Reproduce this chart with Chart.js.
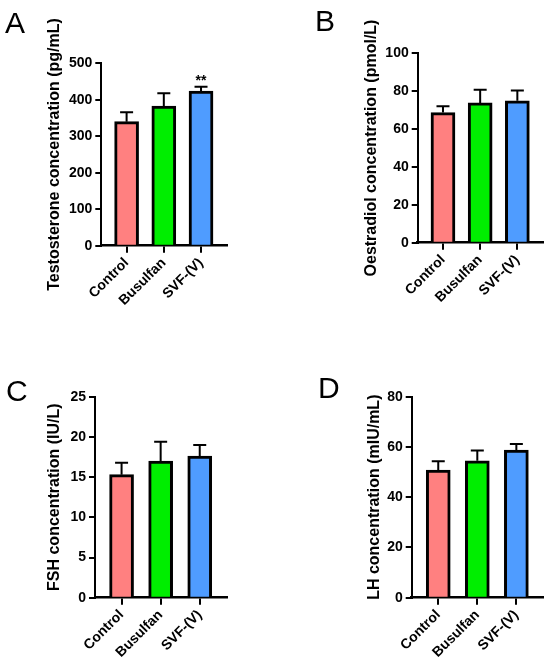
<!DOCTYPE html>
<html>
<head>
<meta charset="utf-8">
<script src="https://cdn.jsdelivr.net/npm/chart.js@4.4.0/dist/chart.umd.min.js"></script>
<style>
  body { margin: 0; background: #fff; }
  #wrap { position: relative; width: 550px; height: 672px; }
  #wrap canvas { position: absolute; }
</style>
</head>
<body>
<div id="wrap">
  <canvas id="chartA" width="275" height="336" style="left:0;top:0"></canvas>
  <canvas id="chartB" width="275" height="336" style="left:275px;top:0"></canvas>
  <canvas id="chartC" width="275" height="336" style="left:0;top:336px"></canvas>
  <canvas id="chartD" width="275" height="336" style="left:275px;top:336px"></canvas>
</div>
<script>
// groupes et couleurs
const groups = ['Control', 'Busulfan', 'SVF-(V)'];
const barColors = ['#FF8080', '#00EE00', '#4F9CFF'];

// A - testosterone
const testoMean = [340, 383, 424];
const testoSd = [26, 35, 12];
const testoSig = ['', '', '**'];
const testoTicks = [0, 100, 200, 300, 400, 500];

// B - oestradiol
const oestMean = [68.7, 73.8, 74.9];
const oestSd = [3.4, 6.9, 5.4];
const oestSig = ['', '', ''];
const oestTicks = [0, 20, 40, 60, 80, 100];

// C - FSH
const fshMean = [15.3, 17.0, 17.6];
const fshSd = [1.5, 2.4, 1.4];
const fshSig = ['', '', ''];
const fshTicks = [0, 5, 10, 15, 20, 25];

// D - LH
const lhMean = [50.8, 54.5, 58.8];
const lhSd = [3.5, 4.1, 2.4];
const lhSig = ['', '', ''];
const lhTicks = [0, 20, 40, 60, 80];

const FONT = 'Arial, "Liberation Sans", sans-serif';
const TITLE_SIZE = 16;

function makePanel(id, letter, letterPos, title, means, sds, sig, yTicks, box) {
  const W = 275, H = 336;
  const lineH = TITLE_SIZE * 1.2;
  const padLeft = box.titleX - lineH / 2;

  // barres d'erreur + lettre du panneau
  const extras = {
    id: 'extras' + letter,
    afterDatasetsDraw(chart) {
      const ctx = chart.ctx;
      const y = chart.scales.y;
      const meta = chart.getDatasetMeta(0);
      ctx.save();
      ctx.strokeStyle = '#000';
      ctx.fillStyle = '#000';
      ctx.lineWidth = 2;
      meta.data.forEach((bar, i) => {
        const top = y.getPixelForValue(means[i] + sds[i]);
        ctx.beginPath();
        ctx.moveTo(bar.x, bar.y);
        ctx.lineTo(bar.x, top);
        ctx.moveTo(bar.x - 6.5, top);
        ctx.lineTo(bar.x + 6.5, top);
        ctx.stroke();
        if (sig[i]) {
          ctx.font = 'bold 14px ' + FONT;
          ctx.textAlign = 'center';
          ctx.textBaseline = 'alphabetic';
          ctx.fillText(sig[i], bar.x, top - 2);
        }
      });
      ctx.restore();
    },
    afterDraw(chart) {
      const ctx = chart.ctx;
      ctx.save();
      ctx.fillStyle = '#000';
      ctx.font = '30px ' + FONT;
      ctx.textAlign = 'left';
      ctx.textBaseline = 'alphabetic';
      ctx.fillText(letter, letterPos[0], letterPos[1]);
      ctx.restore();
    }
  };

  return new Chart(document.getElementById(id), {
    type: 'bar',
    data: {
      datasets: [{
        data: means.map((m, i) => ({ x: i, y: m })),
        backgroundColor: barColors,
        borderColor: '#000',
        borderWidth: 3,
        borderSkipped: 'bottom',
        barThickness: 24
      }]
    },
    options: {
      responsive: false,
      animation: false,
      layout: { padding: { left: padLeft, top: box.ty, right: W - box.rx, bottom: 0 } },
      plugins: { legend: { display: false }, tooltip: { enabled: false } },
      scales: {
        x: {
          type: 'linear',
          offset: false,
          min: -0.68,
          max: 2.69,
          afterBuildTicks: s => { s.ticks = groups.map((g, i) => ({ value: i })); },
          afterFit: s => { s.height = H - box.by; s.paddingLeft = 0; s.paddingRight = 0; },
          grid: { offset: false, drawOnChartArea: false, drawTicks: true, tickLength: 7, color: '#000', lineWidth: 2 },
          border: { display: true, color: '#000', width: 2.5 },
          ticks: {
            autoSkip: false, minRotation: 45, maxRotation: 45, padding: 2,
            color: '#000', font: { family: FONT, size: 14, weight: 'bold' },
            callback: v => groups[v]
          }
        },
        y: {
          min: yTicks[0],
          max: yTicks[yTicks.length - 1],
          afterBuildTicks: s => { s.ticks = yTicks.map(v => ({ value: v })); },
          afterFit: s => { s.width = box.ax - padLeft; s.paddingTop = 0; s.paddingBottom = 0; },
          grid: { drawOnChartArea: false, drawTicks: true, tickLength: 6, color: '#000', lineWidth: 2 },
          border: { display: true, color: '#000', width: 2 },
          ticks: { padding: 3, color: '#000', font: { family: FONT, size: 14, weight: 'bold' } },
          title: {
            display: true, text: title, color: '#000', padding: 0,
            font: { family: FONT, size: TITLE_SIZE, weight: 'bold' }
          }
        }
      }
    },
    plugins: [extras]
  });
}

makePanel('chartA', 'A', [5, 33], 'Testosterone concentration (pg/mL)',
  testoMean, testoSd, testoSig, testoTicks,
  { ax: 101.3, ty: 63.3, by: 245.7, rx: 226.7, titleX: 55 });

makePanel('chartB', 'B', [40, 31], 'Oestradiol concentration (pmol/L)',
  oestMean, oestSd, oestSig, oestTicks,
  { ax: 142.7, ty: 53.3, by: 242.7, rx: 268, titleX: 96.7 });

makePanel('chartC', 'C', [6, 65], 'FSH concentration (IU/L)',
  fshMean, fshSd, fshSig, fshTicks,
  { ax: 95, ty: 60.7, by: 261.7, rx: 226.7, titleX: 55 });

makePanel('chartD', 'D', [43, 62], 'LH concentration (mIU/mL)',
  lhMean, lhSd, lhSig, lhTicks,
  { ax: 136.7, ty: 60.7, by: 261.7, rx: 268.3, titleX: 100 });
</script>
</body>
</html>
